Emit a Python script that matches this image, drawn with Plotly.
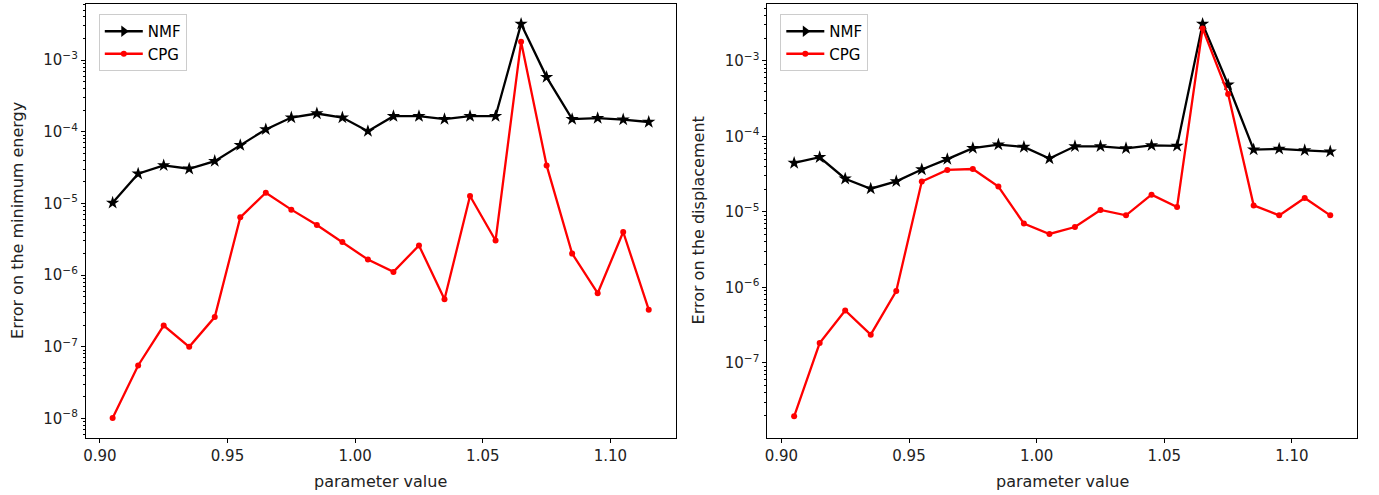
import plotly.graph_objects as go

x_vals = [0.905, 0.915, 0.925, 0.935, 0.945, 0.955, 0.965, 0.975, 0.985, 0.995, 1.005,
          1.015, 1.025, 1.035, 1.045, 1.055, 1.065, 1.075, 1.085, 1.095, 1.105, 1.115]

energy_nmf = [1.02e-5, 2.6e-5, 3.4e-5, 3.05e-5, 3.9e-5, 6.5e-5, 1.08e-4, 1.58e-4, 1.8e-4, 1.58e-4, 1.02e-4,
              1.65e-4, 1.65e-4, 1.5e-4, 1.65e-4, 1.65e-4, 3.2e-3, 5.8e-4, 1.5e-4, 1.55e-4, 1.48e-4, 1.37e-4]
energy_cpg = [1.02e-8, 5.5e-8, 1.98e-7, 1.0e-7, 2.6e-7, 6.4e-6, 1.41e-5, 8.2e-6, 5.0e-6, 2.9e-6, 1.65e-6,
              1.11e-6, 2.6e-6, 4.6e-7, 1.27e-5, 3.04e-6, 1.8e-3, 3.4e-5, 2.0e-6, 5.6e-7, 4.0e-6, 3.3e-7]

disp_nmf = [4.45e-5, 5.3e-5, 2.75e-5, 2.03e-5, 2.54e-5, 3.65e-5, 5.0e-5, 7.0e-5, 7.8e-5, 7.25e-5, 5.1e-5,
            7.4e-5, 7.4e-5, 6.95e-5, 7.6e-5, 7.5e-5, 3.1e-3, 4.85e-4, 6.7e-5, 6.85e-5, 6.55e-5, 6.3e-5]
disp_cpg = [1.95e-8, 1.83e-7, 4.93e-7, 2.36e-7, 8.95e-7, 2.53e-5, 3.6e-5, 3.7e-5, 2.17e-5, 7.0e-6, 5.1e-6,
            6.3e-6, 1.06e-5, 9.0e-6, 1.69e-5, 1.16e-5, 2.7e-3, 3.65e-4, 1.22e-5, 9.0e-6, 1.53e-5, 9.0e-6]

series_names = ["NMF", "CPG"]
x_tick_vals = [0.90, 0.95, 1.00, 1.05, 1.10]
x_tick_text = ["0.90", "0.95", "1.00", "1.05", "1.10"]
y_exponents = [-8, -7, -6, -5, -4, -3]
y_tick_vals = [10.0 ** e for e in y_exponents]
y_tick_text = ["10<sup>\u2212%d</sup>" % (-e) for e in y_exponents]
minor_log_ticks = [k * 10.0 ** e for e in range(-10, -1) for k in range(2, 10)]

FONT = "DejaVu Sans"
TXT = "#222222"
fig = go.Figure()

def add_panel(xa, ya, nmf, cpg, legend_id):
    fig.add_trace(go.Scatter(x=x_vals, y=nmf, mode="lines+markers", xaxis=xa, yaxis=ya,
                             line=dict(color="black", width=2.3),
                             marker=dict(symbol="star", size=10, color="black"),
                             showlegend=False))
    fig.add_trace(go.Scatter(x=x_vals, y=cpg, mode="lines+markers", xaxis=xa, yaxis=ya,
                             line=dict(color="red", width=2.3),
                             marker=dict(symbol="circle", size=6, color="red"),
                             showlegend=False))
    fig.add_trace(go.Scatter(x=[None], y=[None], mode="lines+markers", xaxis=xa, yaxis=ya,
                             name=series_names[0], legend=legend_id,
                             line=dict(color="black", width=2.3),
                             marker=dict(symbol="triangle-right", size=10, color="black")))
    fig.add_trace(go.Scatter(x=[None], y=[None], mode="lines+markers", xaxis=xa, yaxis=ya,
                             name=series_names[1], legend=legend_id,
                             line=dict(color="red", width=2.3),
                             marker=dict(symbol="circle", size=6, color="red")))

add_panel("x", "y", energy_nmf, energy_cpg, "legend")
add_panel("x2", "y2", disp_nmf, disp_cpg, "legend2")

xcommon = dict(range=[0.8945, 1.1255], tickmode="array", tickvals=x_tick_vals, ticktext=x_tick_text,
               showline=True, linecolor="black", linewidth=1, mirror=True,
               ticks="outside", ticklen=4, tickcolor="black", showgrid=False, zeroline=False,
               tickfont=dict(family=FONT, size=15, color=TXT))
ycommon = dict(type="log", tickmode="array", tickvals=y_tick_vals, ticktext=y_tick_text,
               showline=True, linecolor="black", linewidth=1, mirror=True,
               ticks="outside", ticklen=4, tickcolor="black", showgrid=False, zeroline=False,
               minor=dict(tickmode="array", tickvals=minor_log_ticks, ticks="outside",
                          ticklen=2, tickcolor="black", showgrid=False),
               tickfont=dict(family=FONT, size=15, color=TXT))

legend_common = dict(xanchor="left", yanchor="top", bgcolor="white", bordercolor="#cccccc",
                     borderwidth=1, font=dict(family=FONT, size=15, color="black"),
                     tracegroupgap=0, itemwidth=38)

fig.update_layout(
    width=1379, height=495,
    margin=dict(l=0, r=0, t=0, b=0),
    paper_bgcolor="white", plot_bgcolor="white",
    xaxis=dict(domain=[83/1379, 674/1379], anchor="y", **xcommon),
    yaxis=dict(domain=[1-437.5/495, 1-3.5/495], anchor="x", range=[-8.265, -2.21], **ycommon),
    xaxis2=dict(domain=[766/1379, 1357/1379], anchor="y2", **xcommon),
    yaxis2=dict(domain=[1-437.5/495, 1-3.5/495], anchor="x2", range=[-7.99, -2.238], **ycommon),
    legend=dict(x=96/1379, y=1-14/495, **legend_common),
    legend2=dict(x=779/1379, y=1-14/495, **legend_common),
    annotations=[
        dict(text="parameter value", x=(83+674)/2/1379, y=1-481/495, xref="paper", yref="paper",
             xanchor="center", yanchor="middle",
             showarrow=False, font=dict(family=FONT, size=16, color=TXT)),
        dict(text="parameter value", x=(766+1357)/2/1379, y=1-481/495, xref="paper", yref="paper",
             xanchor="center", yanchor="middle",
             showarrow=False, font=dict(family=FONT, size=16, color=TXT)),
        dict(text="Error on the minimum energy", x=14/1379, y=1-220/495, xref="paper", yref="paper",
             xanchor="center", yanchor="middle",
             showarrow=False, textangle=-90, font=dict(family=FONT, size=16, color=TXT)),
        dict(text="Error on the displacement", x=697/1379, y=1-220/495, xref="paper", yref="paper",
             xanchor="center", yanchor="middle",
             showarrow=False, textangle=-90, font=dict(family=FONT, size=16, color=TXT)),
    ],
)

fig.write_html("out.html", config={"displayModeBar": False},
               post_script="document.body.style.margin='0px';")
